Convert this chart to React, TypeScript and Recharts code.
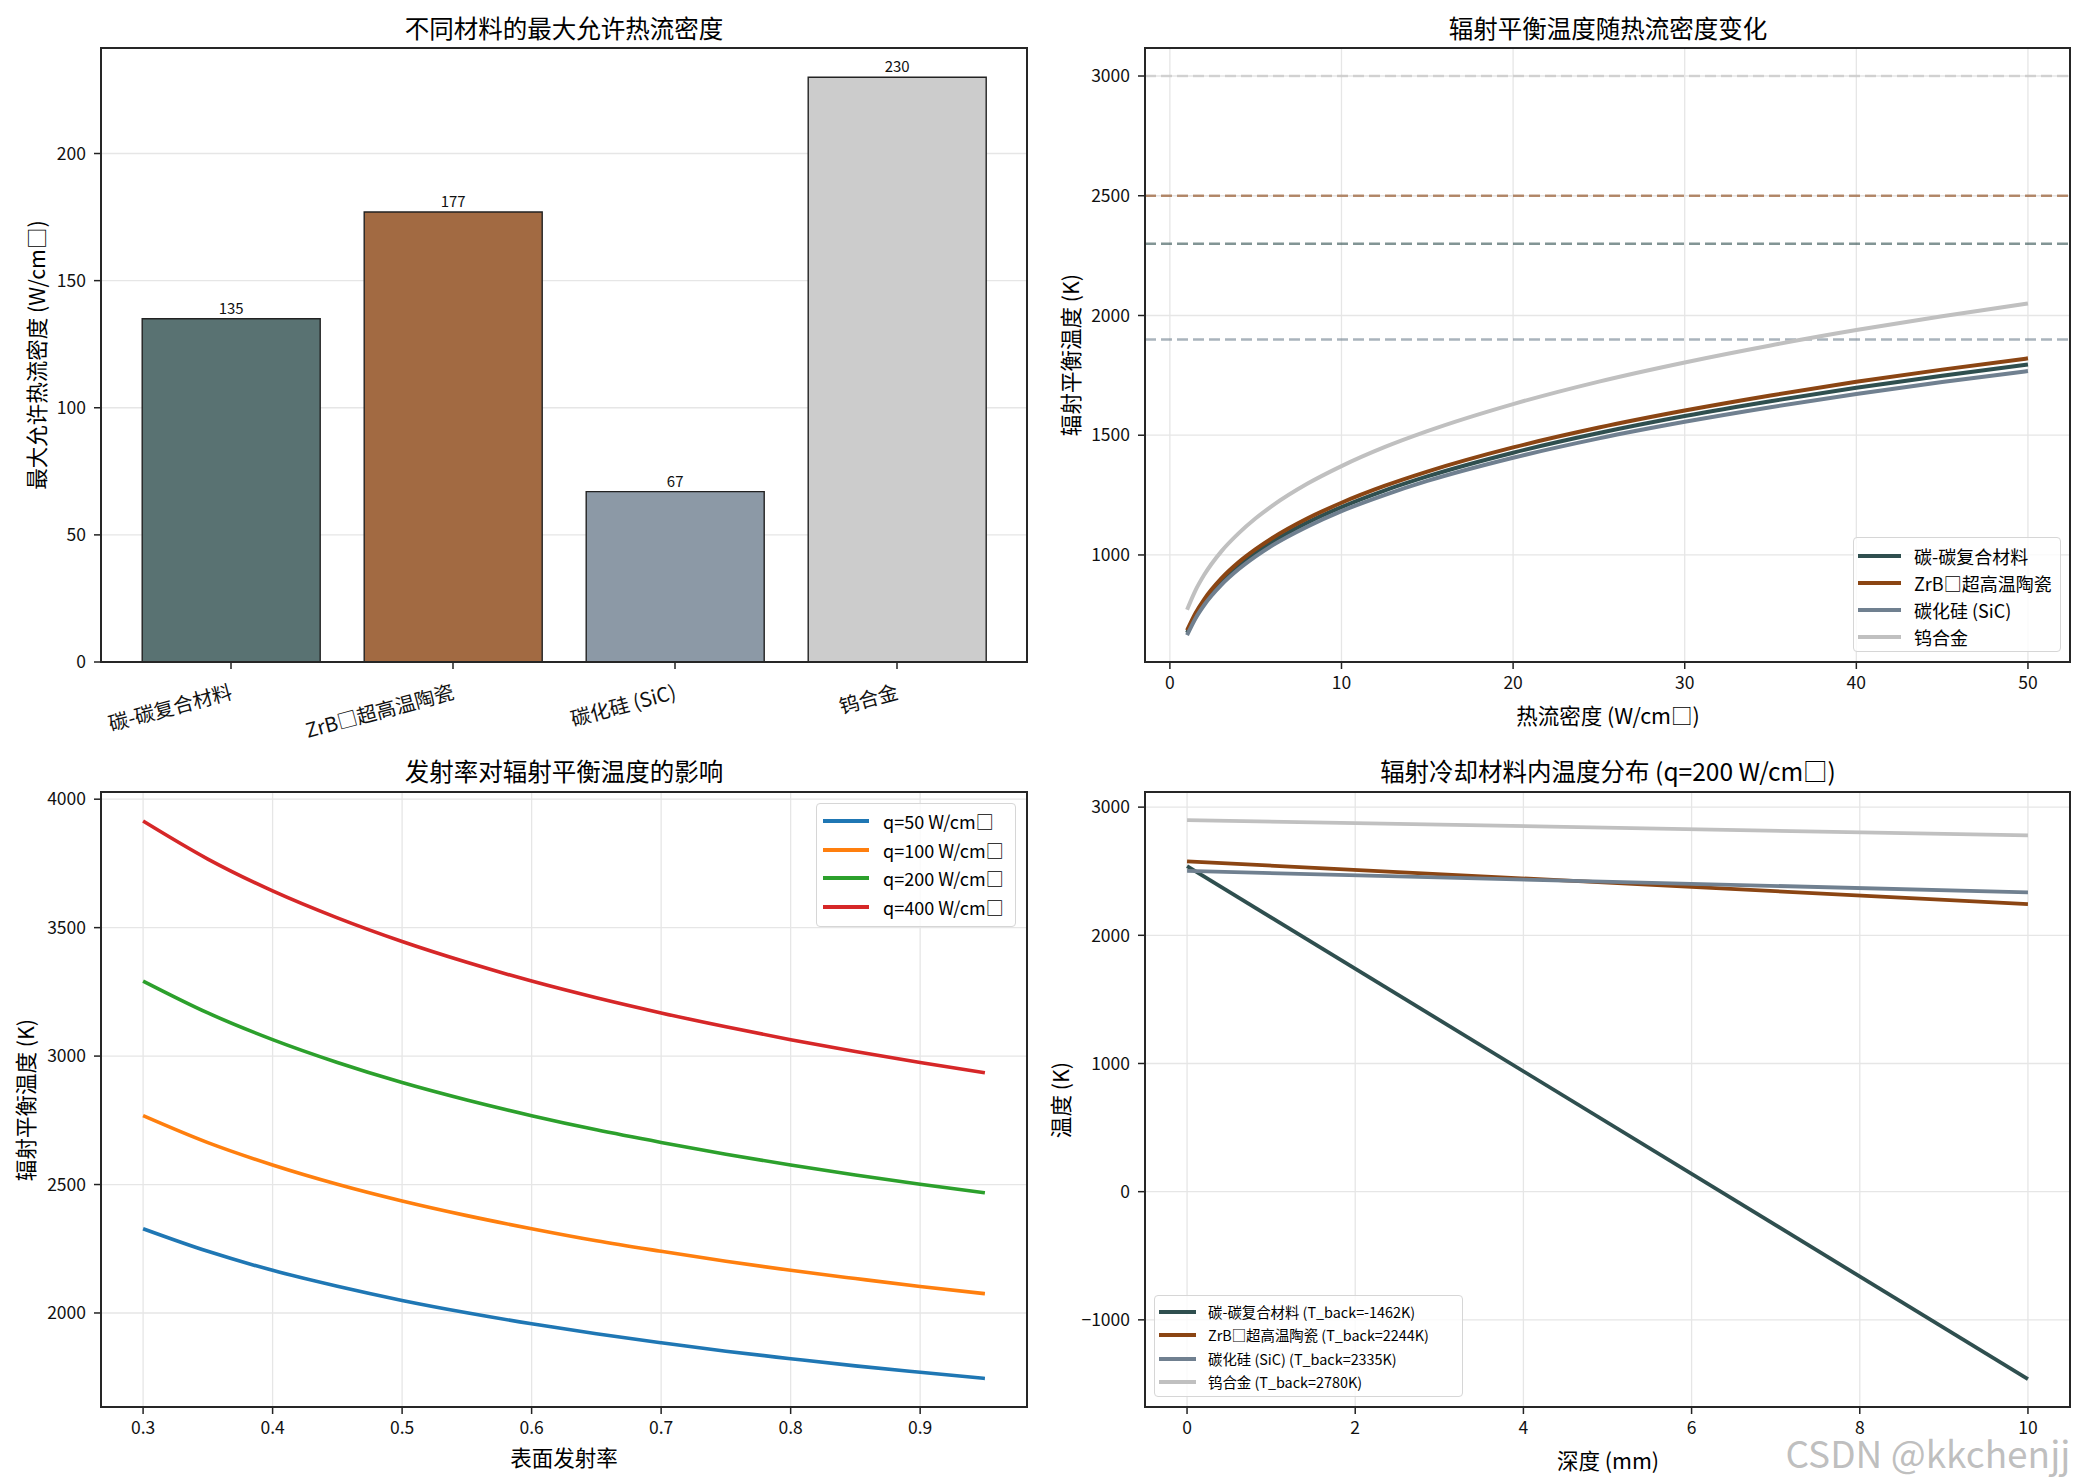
import React from 'react';
import {
  BarChart,
  Bar,
  LineChart,
  Line,
  XAxis,
  YAxis,
  CartesianGrid,
  ReferenceLine,
  Cell,
  LabelList,
} from 'recharts';

const FONT = "'Noto Sans CJK SC', 'Noto Sans', sans-serif";

// ---- panel 1: max allowed heat flux per material ----
const materials = ['碳-碳复合材料', 'ZrB□超高温陶瓷', '碳化硅 (SiC)', '钨合金'];
const maxHeatFlux = [135, 177, 67, 230];
const barColors = ['#597272', '#a26a42', '#8c99a6', '#cccccc'];
const materialColors = ['#2F4F4F', '#8B4513', '#708090', '#C0C0C0'];

// ---- panel 2: equilibrium temperature vs heat flux ----
const fluxPoints = [1, 1.5, 2, 3, 4, 5, 6, 8, 10, 12.5, 15, 20, 25, 30, 35, 40, 45, 50];
const ccTemp = [675, 747, 803, 888, 955, 1009, 1056, 1135, 1200, 1269, 1328, 1427, 1509, 1580, 1642, 1698, 1748, 1795];
const zrbTemp = [685, 758, 815, 902, 969, 1024, 1072, 1152, 1218, 1288, 1348, 1449, 1532, 1603, 1666, 1723, 1774, 1821];
const sicTemp = [665, 736, 791, 875, 940, 994, 1041, 1118, 1183, 1250, 1309, 1406, 1487, 1556, 1617, 1672, 1722, 1768];
const wTemp = [771, 853, 917, 1015, 1090, 1153, 1207, 1297, 1371, 1450, 1517, 1630, 1724, 1804, 1875, 1939, 1997, 2050];
const tempLimits = [3000, 2500, 2300, 1900];
const limitColors = ['#C0C0C0', '#8B4513', '#2F4F4F', '#708090'];

// ---- panel 3: emissivity effect ----
const emissivity = [0.3, 0.35, 0.4, 0.45, 0.5, 0.55, 0.6, 0.65, 0.7, 0.75, 0.8, 0.85, 0.9, 0.95];
const tempQ50 = [2328, 2240, 2166, 2104, 2049, 2001, 1958, 1919, 1884, 1851, 1822, 1794, 1769, 1745];
const tempQ100 = [2768, 2663, 2576, 2501, 2436, 2379, 2328, 2281, 2240, 2201, 2166, 2134, 2103, 2075];
const tempQ200 = [3292, 3168, 3064, 2975, 2897, 2829, 2768, 2713, 2664, 2618, 2576, 2537, 2501, 2468];
const tempQ400 = [3915, 3767, 3643, 3538, 3446, 3365, 3292, 3227, 3168, 3114, 3064, 3018, 2975, 2935];
const qLabels = ['q=50 W/cm□', 'q=100 W/cm□', 'q=200 W/cm□', 'q=400 W/cm□'];
const qColors = ['#1f77b4', '#ff7f0e', '#2ca02c', '#d62728'];

// ---- panel 4: temperature through the thickness ----
const depth = [0, 10];
const ccDepth = [2540, -1462];
const zrbDepth = [2577, 2244];
const sicDepth = [2502, 2335];
const wDepth = [2899, 2780];
const depthLabels = [
  '碳-碳复合材料 (T_back=-1462K)',
  'ZrB□超高温陶瓷 (T_back=2244K)',
  '碳化硅 (SiC) (T_back=2335K)',
  '钨合金 (T_back=2780K)',
];

const barData = materials.map((name, i) => ({ name, value: maxHeatFlux[i] }));
const fluxData = fluxPoints.map((q, i) => ({ q, cc: ccTemp[i], zrb: zrbTemp[i], sic: sicTemp[i], w: wTemp[i] }));
const emisData = emissivity.map((e, i) => ({ e, q50: tempQ50[i], q100: tempQ100[i], q200: tempQ200[i], q400: tempQ400[i] }));
const depthData = depth.map((d, i) => ({ d, cc: ccDepth[i], zrb: zrbDepth[i], sic: sicDepth[i], w: wDepth[i] }));

const TICK = { fontSize: 17.5, fill: '#111', fontFamily: FONT };
const TICKLINE = { stroke: '#222', strokeWidth: 1.5 };
const GRID = '#e6e6e6';

function Frame({ left, top, width, height }: { left: number; top: number; width: number; height: number }) {
  return (
    <div
      style={{
        position: 'absolute',
        left: left - 1,
        top: top - 1,
        width: width + 2,
        height: height + 2,
        border: '2px solid #262626',
        boxSizing: 'border-box',
        pointerEvents: 'none',
      }}
    />
  );
}

function Text({ x, y, size, rotate, children, color }: any) {
  return (
    <div
      style={{
        position: 'absolute',
        left: x,
        top: y,
        transform: `translate(-50%, -50%)${rotate ? ' rotate(-90deg)' : ''}`,
        whiteSpace: 'nowrap',
        fontFamily: FONT,
        fontSize: size,
        color: color || '#000',
        lineHeight: 1,
      }}
    >
      {children}
    </div>
  );
}

interface LegendProps {
  left: number;
  top: number;
  width: number;
  height: number;
  labels: string[];
  colors: string[];
  fontSize: number;
  rowHeight: number;
  padTop: number;
  padLeft: number;
  handle: number;
  gap: number;
  lineWidth: number;
}

function BoxLegend(p: LegendProps) {
  return (
    <div
      style={{
        position: 'absolute',
        left: p.left,
        top: p.top,
        width: p.width,
        height: p.height,
        border: '1.5px solid #d6d6d6',
        borderRadius: 4,
        background: 'rgba(255,255,255,0.8)',
        boxSizing: 'border-box',
        paddingTop: p.padTop,
        paddingLeft: p.padLeft,
        fontFamily: FONT,
        fontSize: p.fontSize,
      }}
    >
      {p.labels.map((label, i) => (
        <div key={label} style={{ display: 'flex', alignItems: 'center', height: p.rowHeight }}>
          <span style={{ display: 'inline-block', width: p.handle, height: p.lineWidth, background: p.colors[i], marginRight: p.gap }} />
          <span style={{ whiteSpace: 'nowrap', lineHeight: 1 }}>{label}</span>
        </div>
      ))}
    </div>
  );
}

const RotatedTick = ({ x, y, payload }: any) => (
  <g transform={`translate(${x - 2},${y})`}>
    <text textAnchor="end" transform="rotate(-15)" dy="0.85em" fontSize={20} fill="#111" fontFamily={FONT}>
      {payload.value}
    </text>
  </g>
);

const minusFmt = (v: number) => (v < 0 ? `\u2212${Math.abs(v)}` : String(v));

export default function App() {
  return (
    <div style={{ position: 'absolute', left: 0, top: 0, width: 2085, height: 1484, background: '#fff', overflow: 'hidden' }}>
      {/* panel 1 */}
      <div style={{ position: 'absolute', left: 0, top: 0 }}>
        <BarChart width={1040} height={740} data={barData} margin={{ top: 48, right: 13, bottom: 18, left: 0 }} barCategoryGap="10%">
          <CartesianGrid vertical={false} stroke={GRID} strokeWidth={1.3} />
          <XAxis
            dataKey="name"
            padding={{ left: 19, right: 19 }}
            height={60}
            axisLine={false}
            tickLine={TICKLINE}
            tickSize={7}
            tickMargin={13}
            interval={0}
            tick={<RotatedTick />}
          />
          <YAxis
            width={101}
            domain={[0, 241.5]}
            ticks={[0, 50, 100, 150, 200]}
            axisLine={false}
            tickLine={TICKLINE}
            tickSize={7}
            tickMargin={8}
            tick={TICK}
          />
          <Bar dataKey="value" stroke="#222" strokeWidth={1.4} isAnimationActive={false}>
            {barData.map((d, i) => (
              <Cell key={d.name} fill={barColors[i]} />
            ))}
            <LabelList dataKey="value" position="top" offset={5} fontSize={15} fill="#111" fontFamily={FONT} />
          </Bar>
        </BarChart>
      </div>
      <Frame left={101} top={48} width={926} height={614} />
      <Text x={564} y={28} size={24.5}>不同材料的最大允许热流密度</Text>
      <Text x={36} y={355} size={21.5} rotate>最大允许热流密度 (W/cm□)</Text>

      {/* panel 2 */}
      <div style={{ position: 'absolute', left: 1040, top: 0 }}>
        <LineChart width={1045} height={740} data={fluxData} margin={{ top: 48, right: 15, bottom: 18, left: 0 }}>
          <CartesianGrid stroke={GRID} strokeWidth={1.3} />
          <XAxis
            dataKey="q"
            type="number"
            domain={[-1.45, 52.45]}
            ticks={[0, 10, 20, 30, 40, 50]}
            height={60}
            axisLine={false}
            tickLine={TICKLINE}
            tickSize={7}
            tickMargin={8}
            tick={TICK}
          />
          <YAxis
            width={105}
            type="number"
            domain={[553, 3117]}
            ticks={[1000, 1500, 2000, 2500, 3000]}
            allowDataOverflow
            axisLine={false}
            tickLine={TICKLINE}
            tickSize={7}
            tickMargin={8}
            tick={TICK}
          />
          {tempLimits.map((t, i) => (
            <ReferenceLine key={t} y={t} stroke={limitColors[i]} strokeOpacity={0.6} strokeWidth={2.5} strokeDasharray="11 5" />
          ))}
          <Line dataKey="cc" type="monotone" stroke={materialColors[0]} strokeWidth={4} dot={false} isAnimationActive={false} />
          <Line dataKey="zrb" type="monotone" stroke={materialColors[1]} strokeWidth={4} dot={false} isAnimationActive={false} />
          <Line dataKey="sic" type="monotone" stroke={materialColors[2]} strokeWidth={4} dot={false} isAnimationActive={false} />
          <Line dataKey="w" type="monotone" stroke={materialColors[3]} strokeWidth={4} dot={false} isAnimationActive={false} />
        </LineChart>
      </div>
      <Frame left={1145} top={48} width={925} height={614} />
      <Text x={1608} y={28} size={24.5}>辐射平衡温度随热流密度变化</Text>
      <Text x={1070} y={355} size={21.5} rotate>辐射平衡温度 (K)</Text>
      <Text x={1608} y={715} size={21.5}>热流密度 (W/cm□)</Text>
      <BoxLegend
        left={1853}
        top={537}
        width={208}
        height={115}
        labels={materials}
        colors={materialColors}
        fontSize={18}
        rowHeight={27}
        padTop={4}
        padLeft={4}
        handle={43}
        gap={13}
        lineWidth={4}
      />

      {/* panel 3 */}
      <div style={{ position: 'absolute', left: 0, top: 740 }}>
        <LineChart width={1040} height={744} data={emisData} margin={{ top: 52, right: 13, bottom: 17, left: 0 }}>
          <CartesianGrid stroke={GRID} strokeWidth={1.3} />
          <XAxis
            dataKey="e"
            type="number"
            domain={[0.2675, 0.9825]}
            ticks={[0.3, 0.4, 0.5, 0.6, 0.7, 0.8, 0.9]}
            tickFormatter={(v: number) => v.toFixed(1)}
            height={60}
            axisLine={false}
            tickLine={TICKLINE}
            tickSize={7}
            tickMargin={8}
            tick={TICK}
          />
          <YAxis
            width={101}
            type="number"
            domain={[1634, 4028]}
            ticks={[2000, 2500, 3000, 3500, 4000]}
            axisLine={false}
            tickLine={TICKLINE}
            tickSize={7}
            tickMargin={8}
            tick={TICK}
          />
          <Line dataKey="q50" type="monotone" stroke={qColors[0]} strokeWidth={3.6} dot={false} isAnimationActive={false} />
          <Line dataKey="q100" type="monotone" stroke={qColors[1]} strokeWidth={3.6} dot={false} isAnimationActive={false} />
          <Line dataKey="q200" type="monotone" stroke={qColors[2]} strokeWidth={3.6} dot={false} isAnimationActive={false} />
          <Line dataKey="q400" type="monotone" stroke={qColors[3]} strokeWidth={3.6} dot={false} isAnimationActive={false} />
        </LineChart>
      </div>
      <Frame left={101} top={792} width={926} height={615} />
      <Text x={564} y={771} size={24.5}>发射率对辐射平衡温度的影响</Text>
      <Text x={25} y={1100} size={21.5} rotate>辐射平衡温度 (K)</Text>
      <Text x={564} y={1457} size={21.5}>表面发射率</Text>
      <BoxLegend
        left={816}
        top={803}
        width={200}
        height={124}
        labels={qLabels}
        colors={qColors}
        fontSize={18}
        rowHeight={28.5}
        padTop={3}
        padLeft={6}
        handle={46}
        gap={14}
        lineWidth={3.6}
      />

      {/* panel 4 */}
      <div style={{ position: 'absolute', left: 1040, top: 740 }}>
        <LineChart width={1045} height={744} data={depthData} margin={{ top: 52, right: 15, bottom: 17, left: 0 }}>
          <CartesianGrid stroke={GRID} strokeWidth={1.3} />
          <XAxis
            dataKey="d"
            type="number"
            domain={[-0.5, 10.5]}
            ticks={[0, 2, 4, 6, 8, 10]}
            height={60}
            axisLine={false}
            tickLine={TICKLINE}
            tickSize={7}
            tickMargin={8}
            tick={TICK}
          />
          <YAxis
            width={105}
            type="number"
            domain={[-1680, 3118]}
            ticks={[-1000, 0, 1000, 2000, 3000]}
            tickFormatter={minusFmt}
            axisLine={false}
            tickLine={TICKLINE}
            tickSize={7}
            tickMargin={8}
            tick={TICK}
          />
          <Line dataKey="cc" type="linear" stroke={materialColors[0]} strokeWidth={3.8} dot={false} isAnimationActive={false} />
          <Line dataKey="zrb" type="linear" stroke={materialColors[1]} strokeWidth={3.8} dot={false} isAnimationActive={false} />
          <Line dataKey="sic" type="linear" stroke={materialColors[2]} strokeWidth={3.8} dot={false} isAnimationActive={false} />
          <Line dataKey="w" type="linear" stroke={materialColors[3]} strokeWidth={3.8} dot={false} isAnimationActive={false} />
        </LineChart>
      </div>
      <Frame left={1145} top={792} width={925} height={615} />
      <Text x={1608} y={771} size={24.5}>辐射冷却材料内温度分布 (q=200 W/cm□)</Text>
      <Text x={1060} y={1100} size={21.5} rotate>温度 (K)</Text>
      <Text x={1608} y={1460} size={21.5}>深度 (mm)</Text>
      <BoxLegend
        left={1154}
        top={1295}
        width={309}
        height={102}
        labels={depthLabels}
        colors={materialColors}
        fontSize={14.4}
        rowHeight={23.5}
        padTop={4}
        padLeft={4}
        handle={37}
        gap={12}
        lineWidth={3.8}
      />

      <Text x={1928} y={1452} size={37} color="rgba(170,170,170,0.75)">CSDN @kkchenjj</Text>
    </div>
  );
}
